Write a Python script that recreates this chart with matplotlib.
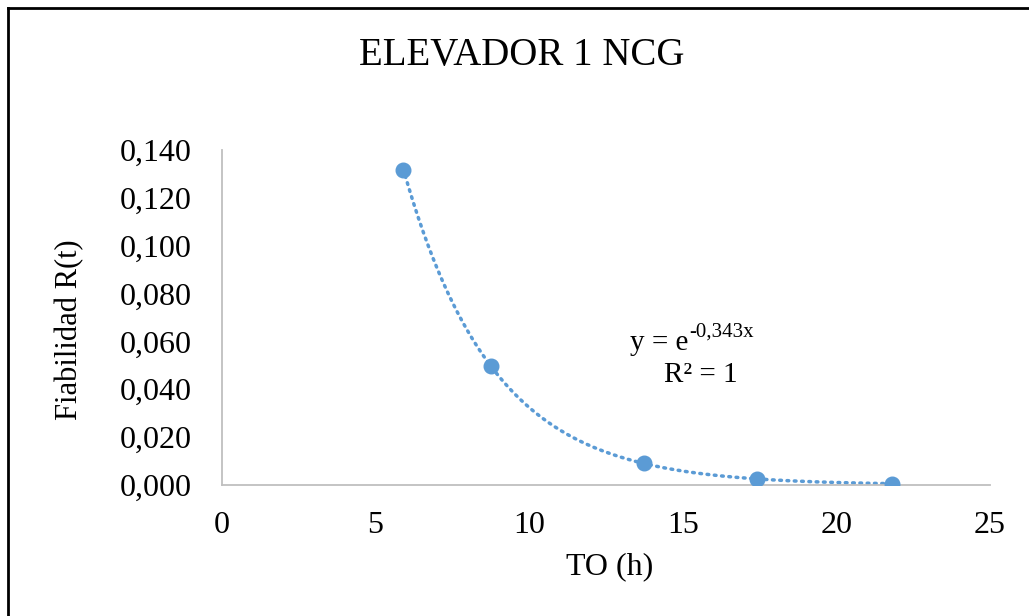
import numpy as np
import matplotlib
matplotlib.use("Agg")
import matplotlib.pyplot as plt
from matplotlib.lines import Line2D
from matplotlib.ticker import FuncFormatter

plt.rcParams['font.family'] = ['Liberation Serif', 'DejaVu Serif']

# Data
to_hours = [5.9, 8.75, 13.75, 17.4, 21.8]
reliability = [0.1315, 0.0497, 0.0090, 0.0026, 0.0006]
fit_coef = -0.343
title = "ELEVADOR 1 NCG"
xlabel = "TO (h)"
ylabel = "Fiabilidad R(t)"
xticks = [0, 5, 10, 15, 20, 25]
yticks = [0.0, 0.02, 0.04, 0.06, 0.08, 0.10, 0.12, 0.14]

blue = '#5B9BD5'
W, H = 1029, 616

fig = plt.figure(figsize=(W/100, H/100), dpi=100)
ax = fig.add_axes([222/W, 1-485/H, (990-222)/W, (485-150)/H])

xs = np.linspace(min(to_hours), max(to_hours), 300)
ax.plot(xs, np.exp(fit_coef * xs), linestyle=(0, (0.5, 1.6)), color=blue,
        linewidth=2.5, dash_capstyle='round', zorder=2)
ax.plot(to_hours, reliability, 'o', color=blue, markersize=10.5, zorder=3)

ax.set_xlim(0, 25)
ax.set_ylim(0, 0.14)
ax.set_xticks(xticks)
ax.set_yticks(yticks)
ax.yaxis.set_major_formatter(FuncFormatter(lambda v, p: f"{v:.3f}".replace('.', ',')))
ax.tick_params(length=0, labelsize=23)
ax.tick_params(axis='y', pad=22)
ax.tick_params(axis='x', pad=19)
for s in ['top', 'right']:
    ax.spines[s].set_visible(False)
for s in ['left', 'bottom']:
    ax.spines[s].set_color('#BFBFBF')
    ax.spines[s].set_linewidth(1.3)

ax.set_xlabel(xlabel, fontsize=23, va='center')
ax.xaxis.set_label_coords((610-222)/768, -(567-485)/335)
ax.set_ylabel(ylabel, fontsize=22, va='center')
ax.yaxis.set_label_coords((70-222)/768, (485-330)/335)

fig.text(522/W, 1-55/H, title, fontsize=28, ha='center', va='center')

# trendline equation
fig.text(688/W, 1-350/H, 'y = e', fontsize=21, ha='right', va='baseline')
fig.text(689/W, 1-337/H, '-0,343x', fontsize=15, ha='left', va='baseline')
fig.text(701/W, 1-382/H, 'R² = 1', fontsize=21, ha='center', va='baseline')

# outer chart border (left and top visible)
fig.add_artist(Line2D([8/W, 8/W], [0, 1-8/H], transform=fig.transFigure, color='black', linewidth=2))
fig.add_artist(Line2D([8/W, 1], [1-8/H, 1-8/H], transform=fig.transFigure, color='black', linewidth=2))

fig.savefig('out.png', dpi=100)
